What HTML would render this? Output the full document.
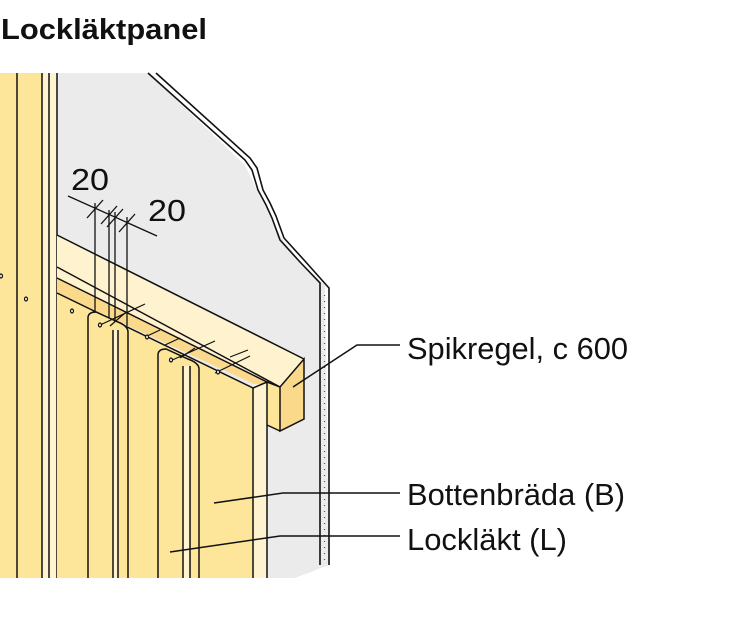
<!DOCTYPE html>
<html><head><meta charset="utf-8"><style>
html,body{margin:0;padding:0;background:#fff;width:749px;height:630px;overflow:hidden}
svg{display:block}
text{font-family:"Liberation Sans","DejaVu Sans",sans-serif}
</style></head><body>
<svg width="749" height="630" viewBox="0 0 749 630" xmlns="http://www.w3.org/2000/svg">
<text x="1" y="39" font-size="29" font-weight="bold" fill="#111" textLength="206" lengthAdjust="spacingAndGlyphs">Lockläktpanel</text>
<!-- grey wall -->
<polygon points="57,73 148,73 245,165 262,200 280,235 300,262 325,285 329,565 295,578 57,578" fill="#ebebeb"/>
<!-- wall edge -->
<polyline points="148,73 245,160 252,170 258,190 266,205 272,218 280,240 300,262 320,283 320,565" fill="none" stroke="#111" stroke-width="1.6"/>
<polyline points="156,73 250,158 257,168 263,190 270,203 276,216 284,238 304,260 329,288 329,565" fill="none" stroke="#111" stroke-width="1.6"/>
<line x1="324.5" y1="295" x2="324.5" y2="560" stroke="#555" stroke-width="1.2" stroke-dasharray="1,5"/>
<!-- left board -->
<rect x="0" y="73" width="57" height="505" fill="#fde69a"/>
<rect x="42" y="73" width="15" height="505" fill="#fff3d0"/>
<g stroke="#111" stroke-width="1.5">
<line x1="17" y1="73" x2="17" y2="578"/><line x1="42" y1="73" x2="42" y2="578"/>
<line x1="49" y1="73" x2="49" y2="578"/><line x1="57" y1="73" x2="57" y2="578"/>
</g>
<!-- back cream band -->
<polygon points="57,235 304,359 304,365 57,268" fill="#fff2cf"/>
<!-- spikregel top face -->
<polygon points="57,265 304,359 280,387 57,278" fill="#fff2cf"/>
<polygon points="57,278 267,382 267,390 57,293" fill="#fbd98a"/>
<!-- bottenbräda -->
<polygon points="57,293 253,388 253,578 57,578" fill="#fde69a"/>
<rect x="253" y="384" width="14" height="194" fill="#fff2cf"/>
<!-- spikregel end -->
<polygon points="280,387 304,359 304,419 280,431" fill="#fbd98a"/>
<polygon points="267,382 280,387 280,431 267,425" fill="#fde69a"/>
<g stroke="#111" stroke-width="1.5" fill="none">
<line x1="57" y1="235" x2="304" y2="359"/>
<line x1="57" y1="267" x2="280" y2="387"/>
<line x1="57" y1="278" x2="267" y2="382"/>
<line x1="57" y1="293" x2="253" y2="388"/>
<polyline points="267,382 280,387 304,359 304,419 280,431 280,387"/>
<polyline points="267,425 280,431"/>
<polyline points="253,388 267,382 267,578"/>
<line x1="253" y1="388" x2="253" y2="578"/>
</g>
<!-- lockläkt boards -->
<g>
<path d="M88,578 V318 Q88,312 96,312 L118,322 Q128,326 128,332 V578 Z" fill="#fde69a"/>
<rect x="113" y="330" width="5" height="248" fill="#fff3d0"/>
<path d="M158,578 V355 Q158,349 166,349 L188,359 Q199,363 199,369 V578 Z" fill="#fde69a"/>
<rect x="183" y="366" width="7" height="212" fill="#fff3d0"/>
</g>
<g stroke="#111" stroke-width="1.5" fill="none">
<path d="M88,578 V318 Q88,312 96,312 L118,322 Q128,326 128,332 V578"/>
<line x1="113" y1="330" x2="113" y2="578"/><line x1="118" y1="330" x2="118" y2="578"/>
<path d="M158,578 V355 Q158,349 166,349 L188,359 Q199,363 199,369 V578"/>
<line x1="183" y1="366" x2="183" y2="578"/><line x1="190" y1="366" x2="190" y2="578"/>
</g>
<!-- nails -->
<g stroke="#111" stroke-width="1.2">
<line x1="98" y1="326" x2="145" y2="304"/><line x1="145" y1="337" x2="160" y2="330"/>
<line x1="165" y1="345" x2="180" y2="338"/><line x1="170" y1="361" x2="215" y2="341"/>
<line x1="215" y1="373" x2="250" y2="356"/><line x1="230" y1="357" x2="248" y2="350"/>
<line x1="110" y1="326" x2="125" y2="313"/><line x1="180" y1="358" x2="195" y2="348"/>
</g>
<g fill="#fff" stroke="#111" stroke-width="1.2">
<ellipse cx="1" cy="276" rx="1.5" ry="2"/><ellipse cx="26" cy="299" rx="1.5" ry="2"/>
<ellipse cx="72" cy="311" rx="1.5" ry="2"/><ellipse cx="100" cy="325" rx="1.5" ry="2"/>
<ellipse cx="147" cy="337" rx="1.5" ry="2"/><ellipse cx="171" cy="360" rx="1.5" ry="2"/>
<ellipse cx="218" cy="372" rx="1.5" ry="2"/>
</g>
<!-- dimensions -->
<g stroke="#111" stroke-width="1.3">
<line x1="68" y1="196" x2="157" y2="236"/>
<line x1="95" y1="203" x2="95" y2="312"/><line x1="109" y1="210" x2="109" y2="318"/>
<line x1="115" y1="212" x2="115" y2="322"/><line x1="127" y1="217" x2="127" y2="326"/>
<line x1="87" y1="218" x2="103" y2="200"/><line x1="101" y1="224" x2="117" y2="206"/>
<line x1="107" y1="227" x2="123" y2="209"/><line x1="119" y1="232" x2="135" y2="214"/>
</g>
<text x="71" y="190" font-size="31" fill="#111" textLength="38" lengthAdjust="spacingAndGlyphs">20</text>
<text x="148" y="221" font-size="31" fill="#111" textLength="38" lengthAdjust="spacingAndGlyphs">20</text>
<!-- leaders -->
<g stroke="#111" stroke-width="1.5" fill="none">
<polyline points="293,387 357,345 400,345"/>
<polyline points="214,503 283,493 400,493"/>
<polyline points="170,552 280,536 400,536"/>
</g>
<g font-size="31" fill="#111">
<text x="407" y="359" textLength="221" lengthAdjust="spacingAndGlyphs">Spikregel, c 600</text>
<text x="407" y="505" textLength="218" lengthAdjust="spacingAndGlyphs">Bottenbräda (B)</text>
<text x="407" y="550" textLength="160" lengthAdjust="spacingAndGlyphs">Lockläkt (L)</text>
</g>
</svg>
</body></html>
